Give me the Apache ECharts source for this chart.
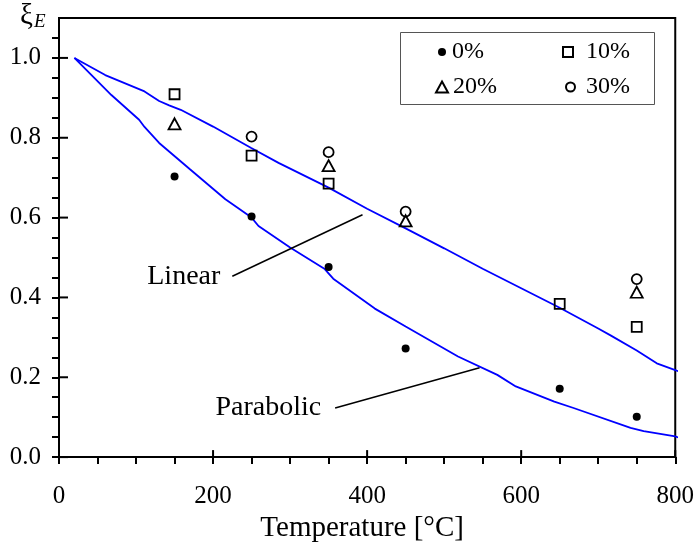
<!DOCTYPE html>
<html>
<head>
<meta charset="utf-8">
<script src="https://cdn.jsdelivr.net/npm/echarts@6/dist/echarts.min.js"></script>
<style>
  html, body { margin: 0; padding: 0; background: #fff; }
  #chart { width: 697px; height: 548px; }
</style>
</head>
<body>
<div id="chart"></div>
<script>
// Measured modulus ratio ξE versus exposure temperature, for four replacement levels
const FONT = "'Liberation Serif', 'Times New Roman', serif";

const seriesNames = ['0%', '10%', '20%', '30%'];
const pts0  = [[150, 0.703], [250, 0.603], [350, 0.476], [450, 0.272], [650, 0.171], [750, 0.101]];
const pts10 = [[150, 0.909], [250, 0.755], [350, 0.685], [650, 0.384], [750, 0.326]];
const pts20 = [[150, 0.835], [350, 0.730], [450, 0.592], [750, 0.413]];
const pts30 = [[250, 0.803], [350, 0.764], [450, 0.615], [750, 0.446]];

// Model curves
const linearCurve = [
  [20, 1.0], [60, 0.957], [111, 0.916], [130, 0.892], [143, 0.881], [158, 0.870],
  [200, 0.828], [249, 0.775], [285, 0.737], [350, 0.675], [400, 0.622], [450, 0.573],
  [500, 0.523], [550, 0.472], [600, 0.423], [650, 0.374], [700, 0.322], [716, 0.305],
  [750, 0.267], [776, 0.235], [800, 0.218], [811, 0.21]
];
const parabolicCurve = [
  [20, 1.0], [68, 0.907], [104, 0.845], [111, 0.827], [130, 0.787], [170, 0.721],
  [216, 0.646], [250, 0.600], [259, 0.579], [300, 0.525], [345, 0.471], [356, 0.447],
  [410, 0.372], [450, 0.327], [518, 0.252], [569, 0.206], [593, 0.177], [643, 0.139],
  [668, 0.123], [742, 0.073], [759, 0.065], [800, 0.052], [811, 0.044]
];

// Callout leaders: [text anchor end, curve end]
const linearLeader = [[225, 0.453], [394, 0.607]];
const parabolicLeader = [[358.5, 0.123], [546, 0.224]];

// Axis ticks
const xMajorTicks = [0, 200, 400, 600, 800];
const xAllTicks = [0, 50, 100, 150, 200, 250, 300, 350, 400, 450, 500, 550, 600, 650, 700, 750, 800];
const yMajorTicks = [0, 0.2, 0.4, 0.6, 0.8, 1.0];
const yAllTicks = [0, 0.05, 0.1, 0.15, 0.2, 0.25, 0.3, 0.35, 0.4, 0.45, 0.5, 0.55, 0.6, 0.65,
                   0.7, 0.75, 0.8, 0.85, 0.9, 0.95, 1.0, 1.05];

const chart = echarts.init(document.getElementById('chart'), null, { renderer: 'canvas' });

function legendAt(name, left, top, itemW, itemH, padLeft) {
  return {
    data: [name], left: left, top: top, padding: 0,
    itemWidth: itemW, itemHeight: itemH, selectedMode: false,
    textStyle: { fontFamily: FONT, fontSize: 24, color: '#000', lineHeight: 24, padding: [0, 0, 0, padLeft] }
  };
}

const tickStyle = { color: '#000', width: 2 };

// Inward half of each major tick, placed through the axis scales
function innerTicks(values, onX, len) {
  return {
    type: 'custom', silent: true, z: 4,
    data: values.map(v => (onX ? [v, 0] : [0, v])),
    renderItem: function (params, api) {
      const p = api.coord([api.value(0), api.value(1)]);
      return {
        type: 'line',
        shape: onX ? { x1: p[0], y1: p[1], x2: p[0], y2: p[1] - len }
                   : { x1: p[0], y1: p[1], x2: p[0] + len, y2: p[1] },
        style: { stroke: '#000', lineWidth: 2 }
      };
    }
  };
}

const option = {
  animation: false,
  backgroundColor: '#fff',
  grid: { left: 59, right: 19, top: 18, bottom: 89, show: true, borderColor: '#000', borderWidth: 2, backgroundColor: 'transparent' },
  xAxis: {
    type: 'value', min: 0, max: 800, position: 'bottom', splitLine: { show: false },
    axisLine: { show: true, onZero: false, lineStyle: { color: '#000', width: 2 } },
    axisTick: { show: true, inside: false, length: 7, lineStyle: tickStyle, customValues: xAllTicks },
    axisLabel: { customValues: xMajorTicks, fontFamily: FONT, fontSize: 25, color: '#000', margin: 27 },
    name: 'Temperature [°C]', nameLocation: 'middle', nameGap: 55,
    nameTextStyle: { fontFamily: FONT, fontSize: 29, color: '#000', padding: [0, 10, 0, 0] }
  },
  yAxis: {
    type: 'value', min: 0, max: 1.1, position: 'left', splitLine: { show: false },
    axisLine: { show: true, onZero: false, lineStyle: { color: '#000', width: 2 } },
    axisTick: { show: true, inside: false, length: 7, lineStyle: tickStyle, customValues: yAllTicks },
    axisLabel: { customValues: yMajorTicks, fontFamily: FONT, fontSize: 25, color: '#000', margin: 18,
                 formatter: v => v.toFixed(1) }
  },
  legend: [
    legendAt('0%', 438, 40, 8, 8, 1),
    legendAt('10%', 562, 40, 10, 10, 8),
    legendAt('20%', 435, 75, 12, 11, 0),
    legendAt('30%', 565, 75, 9, 9, 6)
  ],
  graphic: [
    {
      type: 'rect', z: 1, silent: true,
      shape: { x: 400.5, y: 32.5, width: 254, height: 72 },
      style: { fill: '#fff', stroke: '#555', lineWidth: 1 }
    },
    {
      type: 'text', left: 20, top: 2, silent: true,
      style: {
        text: '{a|ξ}{b|E}',
        rich: {
          a: { fontFamily: FONT, fontSize: 29, fill: '#000' },
          b: { fontFamily: FONT, fontSize: 19, fontStyle: 'italic', fill: '#000', padding: [11, 0, 0, 1] }
        }
      }
    }
  ],
  series: [
    innerTicks(xMajorTicks, true, 7),
    innerTicks(yMajorTicks, false, 9),
    {
      name: 'Linear', type: 'line', data: linearCurve, showSymbol: false, clip: false, z: 3,
      lineStyle: { color: '#0000ff', width: 1.8 }, silent: true
    },
    {
      name: 'Parabolic', type: 'line', data: parabolicCurve, showSymbol: false, clip: false, z: 3,
      lineStyle: { color: '#0000ff', width: 1.8 }, silent: true
    },
    {
      name: 'linearCallout', type: 'line', data: linearLeader, symbol: 'circle', symbolSize: 0,
      showSymbol: true, z: 3, silent: true,
      lineStyle: { color: '#000', width: 1.5 },
      label: {
        show: true, position: 'left', distance: 12, fontFamily: FONT, fontSize: 28, color: '#000',
        formatter: p => (p.dataIndex === 0 ? 'Linear' : '')
      }
    },
    {
      name: 'parabolicCallout', type: 'line', data: parabolicLeader, symbol: 'circle', symbolSize: 0,
      showSymbol: true, z: 3, silent: true,
      lineStyle: { color: '#000', width: 1.5 },
      label: {
        show: true, position: 'left', distance: 14, fontFamily: FONT, fontSize: 28, color: '#000',
        formatter: p => (p.dataIndex === 0 ? 'Parabolic' : '')
      }
    },
    {
      name: seriesNames[0], type: 'scatter', data: pts0, symbol: 'circle', symbolSize: 8, z: 5,
      itemStyle: { color: '#000', opacity: 1 }
    },
    {
      name: seriesNames[1], type: 'scatter', data: pts10, symbol: 'rect', symbolSize: 10, z: 5,
      itemStyle: { color: 'rgba(255,255,255,0)', borderColor: '#000', borderWidth: 1.8, opacity: 1 }
    },
    {
      name: seriesNames[2], type: 'scatter', data: pts20, symbol: 'triangle', symbolSize: [12, 11], z: 5,
      itemStyle: { color: 'rgba(255,255,255,0)', borderColor: '#000', borderWidth: 1.8, opacity: 1 }
    },
    {
      name: seriesNames[3], type: 'scatter', data: pts30, symbol: 'circle', symbolSize: 10, z: 5,
      itemStyle: { color: 'rgba(255,255,255,0)', borderColor: '#000', borderWidth: 1.8, opacity: 1 }
    }
  ]
};

chart.setOption(option);
</script>
</body>
</html>
